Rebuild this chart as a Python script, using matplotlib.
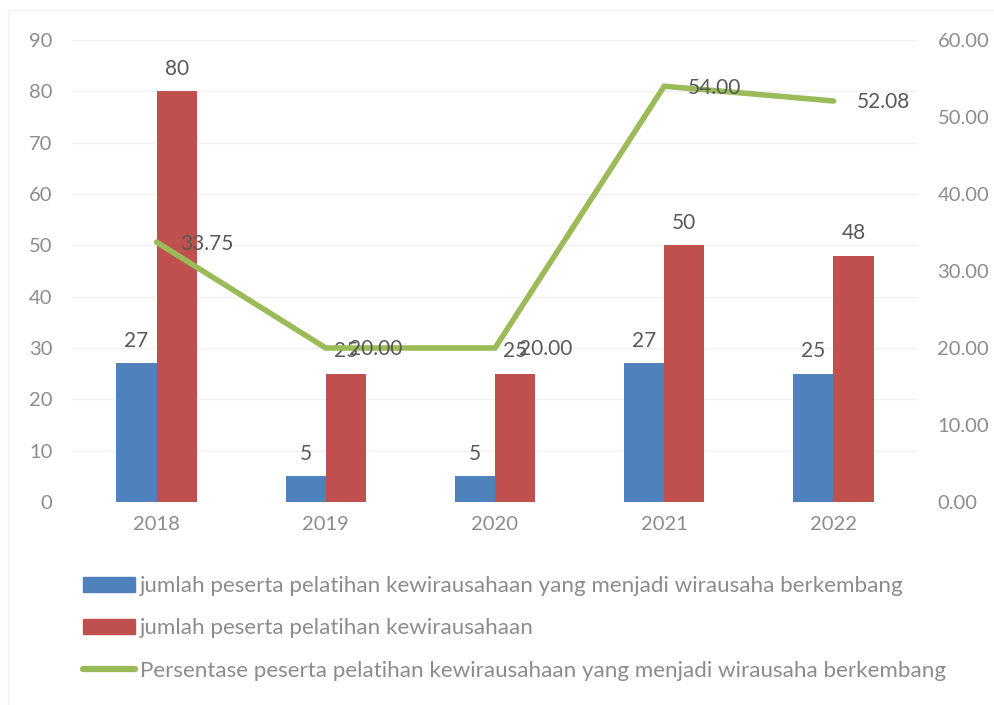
import matplotlib
matplotlib.use("Agg")
import matplotlib.pyplot as plt
from matplotlib.patches import Rectangle
from matplotlib.lines import Line2D
import numpy as np

years = ["2018", "2019", "2020", "2021", "2022"]
berkembang = [27, 5, 5, 27, 25]
peserta = [80, 25, 25, 50, 48]
persentase = [33.75, 20.00, 20.00, 54.00, 52.08]
left_ticks = [0, 10, 20, 30, 40, 50, 60, 70, 80, 90]
right_ticks = [0, 10, 20, 30, 40, 50, 60]
labels = ["jumlah peserta pelatihan kewirausahaan yang menjadi wirausaha berkembang",
          "jumlah peserta pelatihan kewirausahaan",
          "Persentase peserta pelatihan kewirausahaan yang menjadi wirausaha berkembang"]

plt.rcParams['font.family'] = ['Lato', 'DejaVu Sans']
BLUE = "#4F81BD"; RED = "#C0504D"; GREEN = "#9BBB59"
TICK = "#8C8C8C"; LAB = "#595959"

fig = plt.figure(figsize=(9.95, 7.05), dpi=100)
# faint chart-area border (top and left edges visible in the reference)
fig.add_artist(Line2D([8/995, 1.0], [1 - 10/705, 1 - 10/705], transform=fig.transFigure,
                      color="#F0F0F0", linewidth=1))
fig.add_artist(Line2D([8/995, 8/995], [0, 1 - 10/705], transform=fig.transFigure,
                      color="#F0F0F0", linewidth=1))

ax = fig.add_axes([72/995, 1 - 502/705, 846/995, 462/705])
ax2 = ax.twinx()

x = np.arange(len(years))
w = 0.237
ax.bar(x - w/2, berkembang, w, color=BLUE, zorder=2)
ax.bar(x + w/2, peserta, w, color=RED, zorder=2)
for xi, v in zip(x, berkembang):
    ax.annotate(str(v), (xi - w/2, v), xytext=(0, 9), textcoords="offset points",
                ha="center", va="bottom", fontsize=15, color=LAB)
for xi, v in zip(x, peserta):
    ax.annotate(str(v), (xi + w/2, v), xytext=(0, 9), textcoords="offset points",
                ha="center", va="bottom", fontsize=15, color=LAB)

ax.set_xlim(-0.5, len(years) - 0.5)
ax.set_ylim(0, 90)
ax.set_yticks(left_ticks)
ax.set_xticks(x)
ax.set_xticklabels(years)
ax.grid(axis="y", color="#F0F0F0", linewidth=1, zorder=0)
ax.set_axisbelow(True)
for s in ax.spines.values():
    s.set_visible(False)
for s in ax2.spines.values():
    s.set_visible(False)
ax.tick_params(axis="both", length=0, labelsize=14.5, colors=TICK, pad=10)
ax.tick_params(axis="y", pad=14)

ax2.plot(x, persentase, color=GREEN, linewidth=4, solid_capstyle="round", solid_joinstyle="miter", zorder=3)
for xi, v in zip(x, persentase):
    ax2.annotate(f"{v:.2f}", (xi, v), xytext=(17, -1), textcoords="offset points",
                 ha="left", va="center", fontsize=15, color=LAB)
ax2.set_ylim(0, 60)
ax2.set_yticks(right_ticks)
ax2.set_yticklabels([f"{t:.2f}" for t in right_ticks])
ax2.tick_params(axis="y", length=0, labelsize=14.5, colors=TICK, pad=14)

handles = [Rectangle((0, 0), 1, 1, color=BLUE), Rectangle((0, 0), 1, 1, color=RED),
           Line2D([0], [0], color=GREEN, linewidth=4.5, solid_capstyle="round")]
fig.legend(handles, labels, loc="upper left", bbox_to_anchor=(74/995, 1 - 567/705),
           frameon=False, fontsize=16.1, labelcolor=TICK, handlelength=2.35, handleheight=0.65,
           handletextpad=0.2, labelspacing=1.0, borderaxespad=0)

fig.savefig("out.png", dpi=100)
